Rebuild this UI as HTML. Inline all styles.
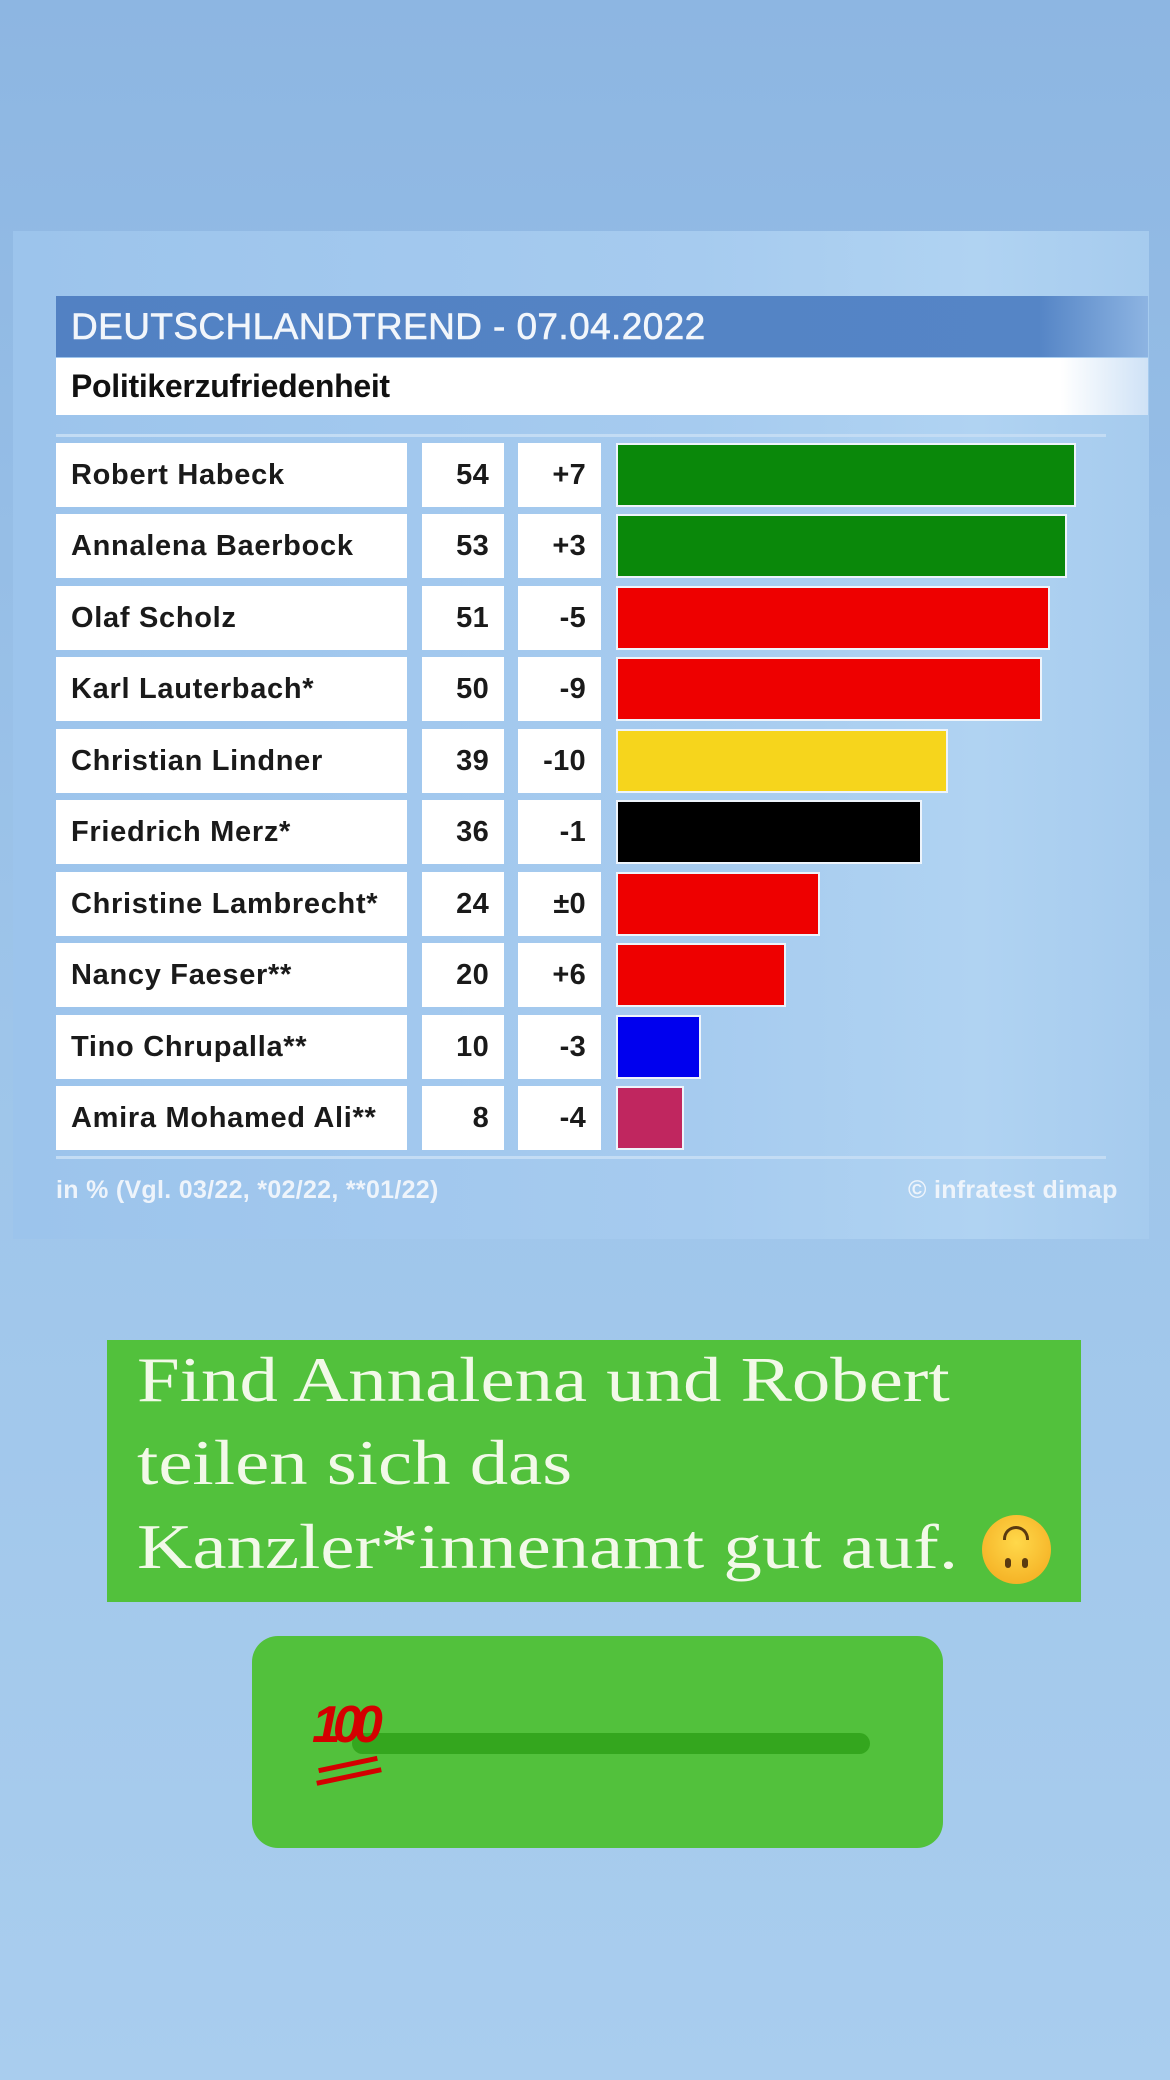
<!DOCTYPE html>
<html><head><meta charset="utf-8">
<style>
*{margin:0;padding:0;box-sizing:border-box}
html,body{width:1170px;height:2080px;overflow:hidden}
body{background:linear-gradient(#8db6e2,#9ec5ea 50%,#a9cdee);position:relative;font-family:"Liberation Sans",sans-serif}
.a{position:absolute}
#panel{left:13px;top:231px;width:1136px;height:1008px;background:linear-gradient(90deg,#9cc4ec,#a6cbef 60%,#b0d3f2 85%,#a6cbee)}
#hdr{left:56px;top:296px;width:1092px;height:61px;background:linear-gradient(90deg,#5281c3,#5585c6 90%,#8db4e2);color:#f2f6fb;font-size:37px;padding-left:15px;line-height:61px;letter-spacing:0.4px;-webkit-text-stroke:0.6px #f2f6fb}
#sub{left:56px;top:358px;width:1092px;height:57px;background:linear-gradient(90deg,#fff 92%,#cfe2f6);color:#111;font-size:32px;font-weight:bold;padding-left:15px;line-height:57px;letter-spacing:-0.3px}
.ln{left:56px;width:1050px;height:3px;background:#c3dcf4}
.c{background:#fff;height:64px;line-height:64px;font-size:29px;font-weight:bold;color:#1a1a1a;letter-spacing:0.3px}
.n{left:56px;width:351px;padding-left:15px;white-space:nowrap;letter-spacing:0.7px}
.v{left:422px;width:82px;text-align:right;padding-right:15px}
.d{left:518px;width:83px;text-align:right;padding-right:15px}
.b{left:616px;height:64px;border:2px solid #eef4fb}
.foot{top:1176px;color:#eef4fb;font-size:25px;font-weight:bold;letter-spacing:0.3px;white-space:nowrap}
#txt{left:107px;top:1340px;width:974px;height:262px;background:#52c13c}
.t{left:137px;color:#f2f9e8;font-family:"Liberation Serif",serif;font-size:64px;white-space:nowrap;transform:scaleX(1.2);transform-origin:0 0}
#sl{left:252px;top:1636px;width:691px;height:212px;background:#52c13c;border-radius:26px}
#tr{left:352px;top:1733px;width:518px;height:21px;background:#34a61e;border-radius:11px}
</style></head><body>
<div id="panel" class="a"></div>
<div id="hdr" class="a">DEUTSCHLANDTREND - 07.04.2022</div>
<div id="sub" class="a">Politikerzufriedenheit</div>
<div class="a ln" style="top:434px"></div>
<div class="a ln" style="top:1156px"></div>

<div class="a c n" style="top:443px">Robert Habeck</div><div class="a c v" style="top:443px">54</div><div class="a c d" style="top:443px">+7</div><div class="a b" style="top:443px;width:460px;background:#0a880a"></div>
<div class="a c n" style="top:514px">Annalena Baerbock</div><div class="a c v" style="top:514px">53</div><div class="a c d" style="top:514px">+3</div><div class="a b" style="top:514px;width:451px;background:#0a880a"></div>
<div class="a c n" style="top:586px">Olaf Scholz</div><div class="a c v" style="top:586px">51</div><div class="a c d" style="top:586px">-5</div><div class="a b" style="top:586px;width:434px;background:#ee0000"></div>
<div class="a c n" style="top:657px">Karl Lauterbach*</div><div class="a c v" style="top:657px">50</div><div class="a c d" style="top:657px">-9</div><div class="a b" style="top:657px;width:426px;background:#ee0000"></div>
<div class="a c n" style="top:729px">Christian Lindner</div><div class="a c v" style="top:729px">39</div><div class="a c d" style="top:729px">-10</div><div class="a b" style="top:729px;width:332px;background:#f6d51c"></div>
<div class="a c n" style="top:800px">Friedrich Merz*</div><div class="a c v" style="top:800px">36</div><div class="a c d" style="top:800px">-1</div><div class="a b" style="top:800px;width:306px;background:#000"></div>
<div class="a c n" style="top:872px">Christine Lambrecht*</div><div class="a c v" style="top:872px">24</div><div class="a c d" style="top:872px">±0</div><div class="a b" style="top:872px;width:204px;background:#ee0000"></div>
<div class="a c n" style="top:943px">Nancy Faeser**</div><div class="a c v" style="top:943px">20</div><div class="a c d" style="top:943px">+6</div><div class="a b" style="top:943px;width:170px;background:#ee0000"></div>
<div class="a c n" style="top:1015px">Tino Chrupalla**</div><div class="a c v" style="top:1015px">10</div><div class="a c d" style="top:1015px">-3</div><div class="a b" style="top:1015px;width:85px;background:#0000ee"></div>
<div class="a c n" style="top:1086px">Amira Mohamed Ali**</div><div class="a c v" style="top:1086px">8</div><div class="a c d" style="top:1086px">-4</div><div class="a b" style="top:1086px;width:68px;background:#c0265f"></div>

<div class="a foot" style="left:56px">in % (Vgl. 03/22, *02/22, **01/22)</div>
<div class="a foot" style="left:908px">© infratest dimap</div>

<div id="txt" class="a"></div>
<div class="a t" style="top:1343px">Find Annalena und Robert</div>
<div class="a t" style="top:1426px">teilen sich das</div>
<div class="a t" style="top:1510px">Kanzler*innenamt gut auf.</div>
<div class="a" style="left:982px;top:1515px;width:69px;height:69px;border-radius:50%;background:radial-gradient(circle at 50% 40%,#ffd84a,#f2a81c)"></div>
<div class="a" style="left:1005px;top:1558px;width:6px;height:10px;border-radius:3px;background:#5a3a10"></div>
<div class="a" style="left:1022px;top:1558px;width:6px;height:10px;border-radius:3px;background:#5a3a10"></div>
<div class="a" style="left:1003px;top:1526px;width:26px;height:14px;border:3px solid #5a3a10;border-bottom:none;border-radius:13px 13px 0 0"></div>

<div id="sl" class="a"></div>
<div id="tr" class="a"></div>
<div class="a" style="left:312px;top:1695px;color:#d40000;font-size:52px;font-style:italic;font-weight:bold;letter-spacing:-8px;font-family:'Liberation Sans',sans-serif">100</div>
<div class="a" style="left:318px;top:1762px;width:60px;height:5px;background:#d40000;transform:rotate(-12deg)"></div>
<div class="a" style="left:316px;top:1774px;width:66px;height:5px;background:#d40000;transform:rotate(-12deg)"></div>
</body></html>
